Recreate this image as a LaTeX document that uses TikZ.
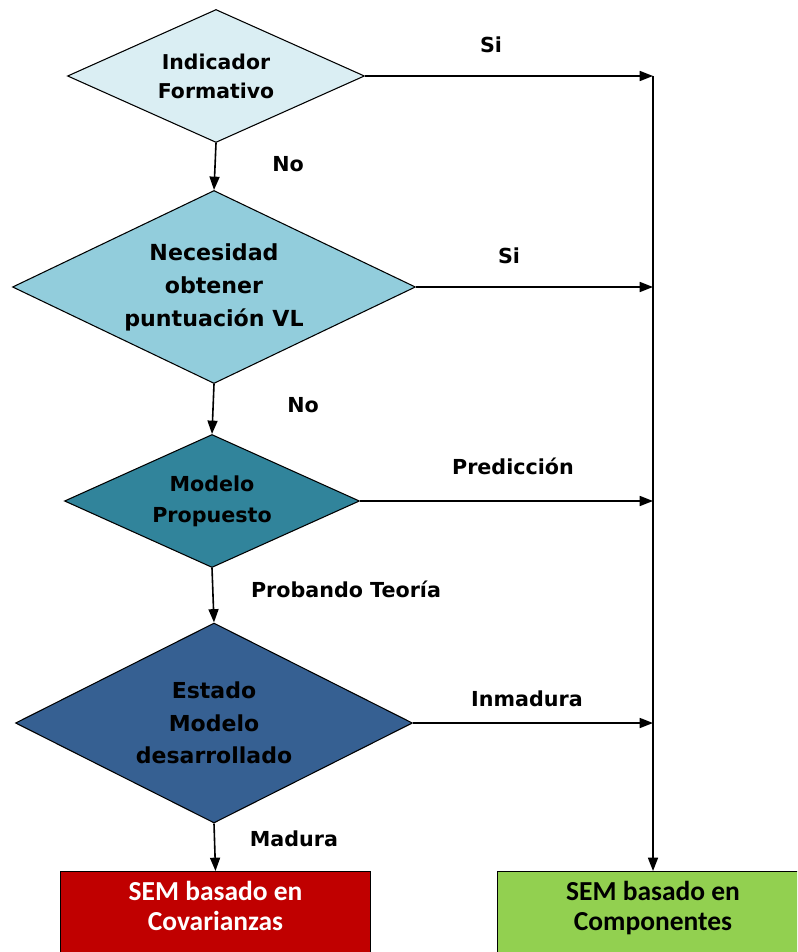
\documentclass[tikz,border=0pt]{standalone}
\usepackage{fontspec}
\setmainfont{DejaVu Sans}
\newfontfamily\boxfont{Carlito}
\usetikzlibrary{shapes.geometric,arrows.meta,positioning}

\definecolor{formcol}{HTML}{DAEEF3}
\definecolor{needcol}{HTML}{92CDDC}
\definecolor{modcol}{HTML}{31849B}
\definecolor{statecol}{HTML}{366092}
\definecolor{covcol}{HTML}{C00000}
\definecolor{compcol}{HTML}{92D050}

\tikzset{
  decision/.style={diamond, draw, line width=0.8pt, aspect=2.1, inner sep=0pt, align=center},
  result/.style={rectangle, draw, line width=0.8pt, anchor=north, minimum width=233pt, inner ysep=7.5pt, text depth=60pt, align=center, font=\boxfont\bfseries\fontsize{20.6}{22.5}\selectfont},
  answer/.style={font=\bfseries\fontsize{15.5}{18}\selectfont},
  flow/.style={-{Triangle[length=10pt,width=7.5pt]}, line width=1.2pt}
}

\begin{document}
\begin{tikzpicture}[x=0.75pt, y=-0.75pt]
  \useasboundingbox (0,0) rectangle (797,952);
  \clip (0,0) rectangle (797,952);

  \node [decision, fill=formcol, minimum width=222.75pt, minimum height=99.75pt,
         font=\bfseries\fontsize{15.3}{21.75}\selectfont] (formative) at (216,76) {Indicador\\Formativo};
  \node [decision, fill=needcol, minimum width=302.25pt, minimum height=144.75pt,
         font=\bfseries\fontsize{16.6}{24.75}\selectfont] (need) at (214,287) {Necesidad\\obtener\\puntuación VL};
  \node [decision, fill=modcol, minimum width=221.25pt, minimum height=99.75pt,
         font=\bfseries\fontsize{15.5}{23}\selectfont] (model) at (212,501) {Modelo\\Propuesto};
  \node [decision, fill=statecol, minimum width=297.75pt, minimum height=150pt,
         font=\bfseries\fontsize{16.5}{24.4}\selectfont] (state) at (214,723) {Estado\\Modelo\\desarrollado};

  \node [result, fill=covcol, text=white] (cov) at (215.5,871) {SEM basado en\\Covarianzas};
  \node [result, fill=compcol] (comp) at (653,871) {SEM basado en\\Componentes};

  \coordinate (spine) at (653,76);

  % answers
  \node [answer] (si1) at (491,45) {Si};
  \node [answer] (no1) at (288,164) {No};
  \node [answer] (si2) at (509,256) {Si};
  \node [answer] (no2) at (303,405) {No};
  \node [answer] (pred) at (513,466) {Predicción};
  \node [answer] (theory) at (346,589) {Probando Teoría};
  \node [answer] (young) at (527,699) {Inmadura};
  \node [answer] (mature) at (294,839) {Madura};

  \draw [flow] (formative.south) -- (need.north);
  \draw [flow] (need.south) -- (model.north);
  \draw [flow] (model.south) -- (state.north);
  \draw [flow] (state.south) -- (cov.north);

  \draw [flow] (formative.east) -- (formative.east -| spine);
  \draw [flow] (need.east) -- (need.east -| spine);
  \draw [flow] (model.east) -- (model.east -| spine);
  \draw [flow] (state.east) -- (state.east -| spine);
  \draw [flow] (spine) -- (comp.north);
\end{tikzpicture}
\end{document}
